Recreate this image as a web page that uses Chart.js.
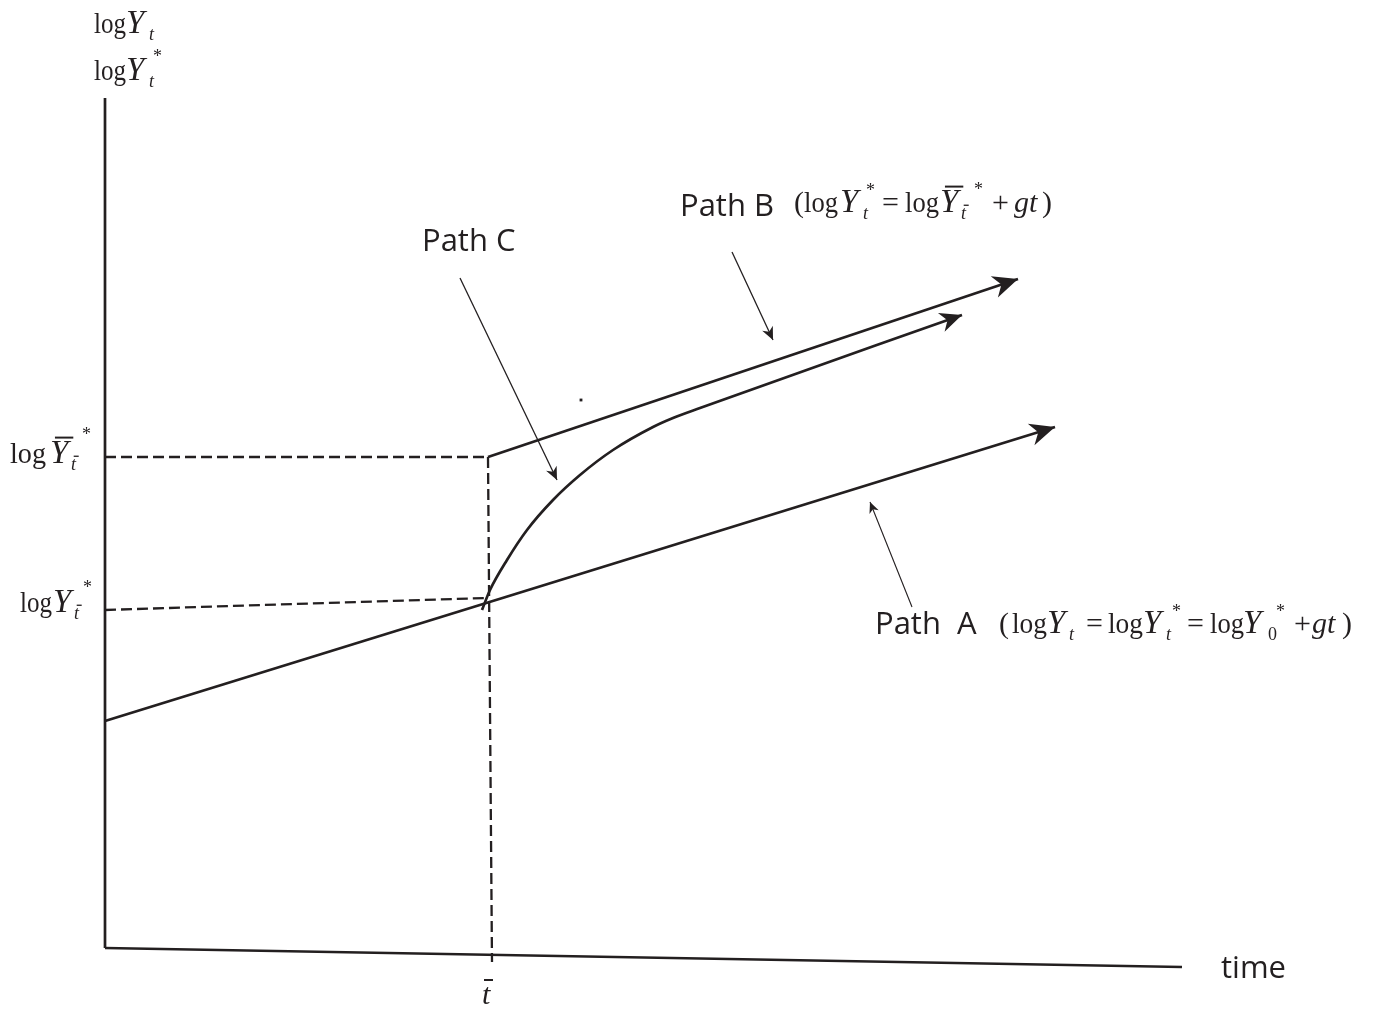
<!DOCTYPE html>
<html>
<head>
<meta charset="utf-8">
<script src="https://cdn.jsdelivr.net/npm/chart.js@4.4.0/dist/chart.umd.min.js"></script>
<style>
  body { margin: 0; background: #fff; }
  canvas { display: block; }
</style>
</head>
<body>
<canvas id="growthChart" width="1386" height="1015"></canvas>
<script>
// [time, log Y] pairs, in chart units
const axisY = [[0, 0], [0, 8.5]];
const axisX = [[0, 0], [10.77, -0.19]];
const pathA = [[0, 2.27], [9.5, 5.21]];
const pathB = [[3.83, 4.91], [9.13, 6.69]];
const pathC = [
  [3.77, 3.38], [3.85, 3.58], [4.02, 3.88], [4.22, 4.18], [4.48, 4.48],
  [4.75, 4.73], [5.08, 4.98], [5.48, 5.21], [5.68, 5.3], [5.95, 5.4], [8.57, 6.33],
];
const dashTop = [[0, 4.91], [3.83, 4.91]];
const dashVert = [[3.83, 4.91], [3.87, -0.14]];
const dashLow = [[0, 3.38], [3.8, 3.5]];
const pointerA = [[8.07, 3.41], [7.65, 4.46]];
const pointerB = [[6.27, 6.96], [6.68, 6.08]];
const pointerC = [[3.55, 6.7], [4.52, 4.68]];
const strayDot = [[4.76, 5.48]];

const ink = "#231f20";
const toXY = (arr) => arr.map(([x, y]) => ({ x, y }));

function line(data, opts) {
  return Object.assign(
    {
      data: toXY(data),
      showLine: true,
      borderColor: ink,
      backgroundColor: ink,
      borderWidth: 2.7,
      pointRadius: 0,
      fill: false,
      clip: false,
    },
    opts,
  );
}

const dashed = { borderWidth: 2.3, borderDash: [11, 5] };

const arrowPlugin = {
  id: "arrows",
  afterDatasetsDraw(chart) {
    const ctx = chart.ctx;
    chart.data.datasets.forEach((ds, i) => {
      if (!ds.arrow) return;
      const pts = chart.getDatasetMeta(i).data;
      const a = pts[pts.length - 2];
      const b = pts[pts.length - 1];
      const ang = Math.atan2(b.y - a.y, b.x - a.x);
      const L = ds.arrow;
      const W = L * 0.45;
      ctx.save();
      ctx.translate(b.x, b.y);
      ctx.rotate(ang);
      ctx.beginPath();
      ctx.moveTo(0, 0);
      ctx.lineTo(-L, -W);
      ctx.lineTo(-L * 0.7, 0);
      ctx.lineTo(-L, W);
      ctx.closePath();
      ctx.fillStyle = ink;
      ctx.fill();
      ctx.restore();
    });
  },
};

// pieces: s text, x left edge, i italic, k size factor, dy baseline shift (px), bar overline, w squeeze to width
function drawMath(ctx, y, size, parts) {
  ctx.fillStyle = ink;
  ctx.textBaseline = "alphabetic";
  ctx.textAlign = "left";
  for (const p of parts) {
    const fs = size * (p.k || 1);
    ctx.font = (p.i ? "italic " : "") + fs + 'px "Liberation Serif"';
    const by = y + (p.dy || 0);
    const m = ctx.measureText(p.s).width;
    if (p.w) {
      ctx.save();
      ctx.translate(p.x, by);
      ctx.scale(p.w / m, 1);
      ctx.fillText(p.s, 0, 0);
      ctx.restore();
    } else {
      ctx.fillText(p.s, p.x, by);
    }
    if (p.bar) {
      ctx.fillRect(p.x + fs * 0.15, by - fs * 0.8, m, Math.max(1.3, fs * 0.06));
    }
  }
}

const S = 30;
const Yk = 1.1;
const log = (x, w) => ({ s: "log", x, w: w || 33 });
const sub = (s, x, extra) => Object.assign({ s, x: x - 3, i: true, k: 0.6, dy: 7 }, extra);
const star = (x, dy) => ({ s: "*", x: x - 2, k: 0.6, dy: dy || -15 });
const Y = (x, extra) => Object.assign({ s: "Y", x, i: true, k: Yk }, extra);

const labelPlugin = {
  id: "labels",
  afterDraw(chart) {
    const ctx = chart.ctx;
    ctx.save();
    drawMath(ctx, 33, S, [log(94, 32), Y(126), sub("t", 152)]);
    drawMath(ctx, 80, S, [log(94, 32), Y(126), sub("t", 152), star(155, -18)]);
    drawMath(ctx, 463, S, [
      log(10, 36), Y(50, { bar: true }), sub("t", 74, { bar: true }), star(84, -23),
    ]);
    drawMath(ctx, 612, S, [
      log(20, 32), Y(53), sub("t", 77, { bar: true }), star(85, -19),
    ]);
    drawMath(ctx, 212, S, [
      { s: "(", x: 794 }, log(804, 34), Y(840), sub("t", 866), star(868, -16),
      { s: "=", x: 882 }, log(905, 34), Y(940, { bar: true }), sub("t", 964, { bar: true }),
      star(976, -17), { s: "+", x: 992 }, { s: "gt", x: 1014, i: true }, { s: ")", x: 1042 },
    ]);
    drawMath(ctx, 633, S, [
      { s: "(", x: 999 }, log(1012, 35), Y(1047), sub("t", 1072),
      { s: "=", x: 1086 }, log(1108, 35), Y(1143), sub("t", 1169), star(1174, -16),
      { s: "=", x: 1187 }, log(1210, 34), Y(1243), sub("0", 1271, { i: false }), star(1278, -16),
      { s: "+", x: 1294 }, { s: "gt", x: 1312, i: true }, { s: ")", x: 1342 },
    ]);
    // t-bar under the axis
    drawMath(ctx, 1004, S, [{ s: "t", x: 482, i: true }]);
    ctx.fillRect(484, 979, 9, 2);

    ctx.font = '31px "Open Sans"';
    ctx.fillStyle = ink;
    ctx.fillText("Path C", 422, 251);
    ctx.fillText("Path B", 680, 216);
    ctx.fillText("Path  A", 875, 634);
    ctx.fillText("time", 1221, 978);
    ctx.restore();
  },
};

new Chart(document.getElementById("growthChart"), {
  type: "scatter",
  data: {
    datasets: [
      line(axisY),
      line(axisX),
      line(dashTop, dashed),
      line(dashVert, dashed),
      line(dashLow, dashed),
      line(pathA, { arrow: 25 }),
      line(pathB, { arrow: 25 }),
      line(pathC, { arrow: 22, cubicInterpolationMode: "monotone" }),
      line(pointerA, { borderWidth: 1.1, arrow: 11 }),
      line(pointerB, { borderWidth: 1.3, arrow: 13 }),
      line(pointerC, { borderWidth: 1.3, arrow: 13 }),
      line(strayDot, { showLine: false, pointRadius: 2, pointStyle: "rect", borderWidth: 0 }),
    ],
  },
  options: {
    responsive: false,
    animation: false,
    layout: { padding: 0, autoPadding: false },
    scales: {
      x: { type: "linear", min: -1.05, max: 12.81, display: false },
      y: { type: "linear", min: -0.67, max: 9.48, display: false },
    },
    plugins: {
      legend: { display: false },
      tooltip: { enabled: false },
    },
  },
  plugins: [arrowPlugin, labelPlugin],
});
</script>
</body>
</html>
